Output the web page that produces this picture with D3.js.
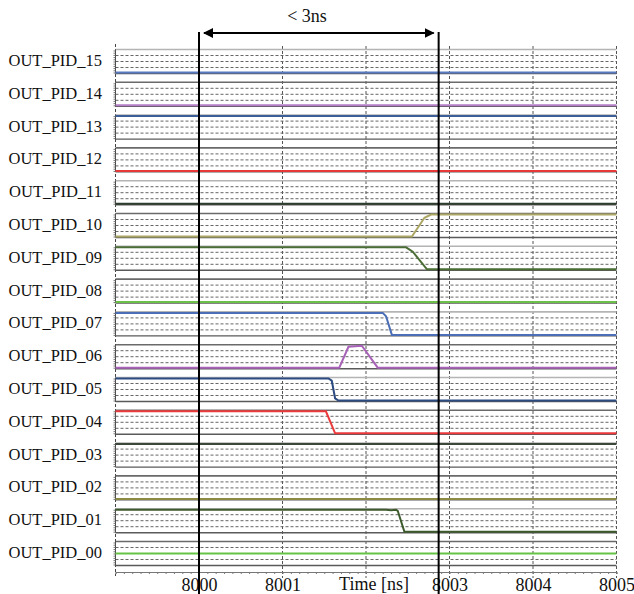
<!DOCTYPE html>
<html>
<head>
<meta charset="utf-8">
<script src="https://d3js.org/d3.v7.min.js"></script>
<style>
  body { margin: 0; background: #fff; }
  text { font-family: "Liberation Serif", "Times New Roman", serif; fill: #111; }
</style>
</head>
<body>
<script>
// signal names, top to bottom
var signalNames = ["OUT_PID_15", "OUT_PID_14", "OUT_PID_13", "OUT_PID_12", "OUT_PID_11", "OUT_PID_10",
                   "OUT_PID_09", "OUT_PID_08", "OUT_PID_07", "OUT_PID_06", "OUT_PID_05", "OUT_PID_04",
                   "OUT_PID_03", "OUT_PID_02", "OUT_PID_01", "OUT_PID_00"];

var signalColors = ["#587ac0", "#b47ec6", "#3b5f96", "#e8393a", "#2e3d2e", "#aca765",
                    "#4b6e36", "#6cc04a", "#4c6eb6", "#a862b8", "#2c4b82", "#ec3a3c",
                    "#3b483b", "#8c8a45", "#3c5a2c", "#66c444"];

// waveform points [time ns, level 0..1]
var wave15 = [[7999, 0], [8005, 0]];
var wave14 = [[7999, 0], [8005, 0]];
var wave13 = [[7999, 1], [8005, 1]];
var wave12 = [[7999, 0], [8005, 0]];
var wave11 = [[7999, 0], [8005, 0]];
var wave10 = [[7999, 0], [8002.55, 0], [8002.7, 0.85], [8002.78, 1], [8005, 1]];
var wave09 = [[7999, 1], [8002.48, 1], [8002.56, 0.8], [8002.73, 0], [8005, 0]];
var wave08 = [[7999, 0], [8005, 0]];
var wave07 = [[7999, 1], [8002.2, 1], [8002.24, 0.85], [8002.31, 0], [8005, 0]];
var wave06 = [[7999, 0], [8001.68, 0], [8001.79, 0.95], [8001.95, 1], [8002.14, 0], [8005, 0]];
var wave05 = [[7999, 1], [8001.55, 1], [8001.59, 0.9], [8001.63, 0.1], [8001.67, 0], [8005, 0]];
var wave04 = [[7999, 1], [8001.52, 1], [8001.63, 0], [8005, 0]];
var wave03 = [[7999, 1], [8005, 1]];
var wave02 = [[7999, 0], [8005, 0]];
var wave01 = [[7999, 1], [8002.24, 1], [8002.3, 0.97], [8002.36, 1], [8002.38, 0.95], [8002.46, 0], [8005, 0]];
var wave00 = [[7999, 0.5], [8005, 0.5]];

var waves = [wave15, wave14, wave13, wave12, wave11, wave10, wave09, wave08,
             wave07, wave06, wave05, wave04, wave03, wave02, wave01, wave00];

var timeTicks = [8000, 8001, 8002, 8003, 8004, 8005];
var cursorTimes = [8000, 8002.87];
var cursorLabel = "< 3ns";
var axisTitle = "Time [ns]";

var width = 634, height = 594;

var svg = d3.select("body").append("svg")
    .attr("width", width)
    .attr("height", height);

// scales
var x = d3.scaleLinear()
    .domain([7999, 8005])
    .range([115.5, 616.5]);

var rows = d3.scaleBand()
    .domain(signalNames)
    .range([49.5, 565.5])
    .paddingInner(0.268)
    .paddingOuter(0);

var axisY = 572;

// vertical grid lines
svg.append("g")
    .selectAll("line")
    .data(timeTicks)
    .enter().append("line")
    .attr("x1", function(d) { return x(d); })
    .attr("x2", function(d) { return x(d); })
    .attr("y1", 46)
    .attr("y2", axisY + 6)
    .attr("stroke", "#555")
    .attr("stroke-width", 1)
    .attr("stroke-dasharray", "3,2");

// left dashed axis
svg.append("line")
    .attr("x1", x(7999)).attr("x2", x(7999))
    .attr("y1", 44).attr("y2", axisY + 4)
    .attr("stroke", "#444")
    .attr("stroke-dasharray", "3,2");

// one pane per signal
signalNames.forEach(function(name, i) {
    var top = rows(name);
    var bw = rows.bandwidth();
    var y = d3.scaleLinear()
        .domain([0, 1])
        .range([top + bw - 1, top + 1]);

    var g = svg.append("g");

    // dashed inner grid
    g.selectAll("line.grid")
        .data([0.25, 0.5, 0.75])
        .enter().append("line")
        .attr("class", "grid")
        .attr("x1", x(7999)).attr("x2", x(8005))
        .attr("y1", function(d) { return top + bw * d; })
        .attr("y2", function(d) { return top + bw * d; })
        .attr("stroke", "#666")
        .attr("stroke-width", 1)
        .attr("stroke-dasharray", "3,2");

    // pane borders
    g.append("line")
        .attr("x1", x(7999)).attr("x2", x(8005))
        .attr("y1", top).attr("y2", top)
        .attr("stroke", i % 2 ? "#6a6a6a" : "#b4b4b4")
        .attr("stroke-width", 1.6);
    g.append("line")
        .attr("x1", x(7999)).attr("x2", x(8005))
        .attr("y1", top + bw).attr("y2", top + bw)
        .attr("stroke", "#5a5a5a")
        .attr("stroke-width", 1.4);
    g.append("line")
        .attr("x1", x(7999)).attr("x2", x(7999))
        .attr("y1", top).attr("y2", top + bw)
        .attr("stroke", "#444")
        .attr("stroke-width", 1);

    // small left ticks
    var yaxis = d3.axisLeft(y)
        .ticks(8)
        .tickSize(2)
        .tickFormat("");
    g.append("g")
        .attr("transform", "translate(" + x(7999) + ",0)")
        .call(yaxis)
        .call(function(s) { s.select(".domain").remove(); })
        .selectAll("line").attr("stroke", "#777");

    // waveform
    var line = d3.line()
        .x(function(d) { return x(d[0]); })
        .y(function(d) { return y(d[1]); });
    g.append("path")
        .datum(waves[i])
        .attr("d", line)
        .attr("fill", "none")
        .attr("stroke", signalColors[i])
        .attr("stroke-width", 2);

    // label
    svg.append("text")
        .attr("x", 102)
        .attr("y", top + bw / 2 + 4.5)
        .attr("text-anchor", "end")
        .style("font-size", "16.5px")
        .text(name);
});

// bottom time axis
var minorTicks = d3.range(7999, 8005.001, 0.1);
var xaxisMinor = d3.axisBottom(x)
    .tickValues(minorTicks)
    .tickSize(2)
    .tickFormat("");
svg.append("g")
    .attr("transform", "translate(0," + axisY + ")")
    .call(xaxisMinor)
    .call(function(s) {
        s.select(".domain").attr("stroke", "#777");
        s.selectAll("line").attr("stroke", "#777");
    });

var xaxis = d3.axisBottom(x)
    .tickValues(timeTicks)
    .tickSize(0)
    .tickPadding(6)
    .tickFormat(function(d) { return d === 8002 ? "" : d3.format("d")(d); });
svg.append("g")
    .attr("transform", "translate(0," + axisY + ")")
    .call(xaxis)
    .call(function(s) {
        s.select(".domain").remove();
        s.selectAll("text")
            .style("font-size", "18px")
            .style("font-family", "'Liberation Serif', serif")
            .attr("fill", "#111");
    });

svg.append("text")
    .attr("x", x(8002) + 8)
    .attr("y", 590)
    .attr("text-anchor", "middle")
    .style("font-size", "18px")
    .text(axisTitle);

// cursors
svg.selectAll("line.cursor")
    .data(cursorTimes)
    .enter().append("line")
    .attr("class", "cursor")
    .attr("x1", function(d) { return x(d); })
    .attr("x2", function(d) { return x(d); })
    .attr("y1", 32)
    .attr("y2", height)
    .attr("stroke", "#000")
    .attr("stroke-width", 2);

// double arrow between cursors
var defs = svg.append("defs");
defs.append("marker")
    .attr("id", "arrowEnd")
    .attr("viewBox", "0 0 10 10")
    .attr("refX", 9).attr("refY", 5)
    .attr("markerWidth", 5).attr("markerHeight", 5)
    .attr("orient", "auto-start-reverse")
    .append("path")
    .attr("d", "M0,0 L10,5 L0,10 Z")
    .attr("fill", "#000");

svg.append("line")
    .attr("x1", x(cursorTimes[0]) + 5)
    .attr("x2", x(cursorTimes[1]) - 5)
    .attr("y1", 33).attr("y2", 33)
    .attr("stroke", "#000")
    .attr("stroke-width", 2)
    .attr("marker-start", "url(#arrowEnd)")
    .attr("marker-end", "url(#arrowEnd)");

svg.append("text")
    .attr("x", 307)
    .attr("y", 22)
    .attr("text-anchor", "middle")
    .style("font-size", "18px")
    .text(cursorLabel);
</script>
</body>
</html>
